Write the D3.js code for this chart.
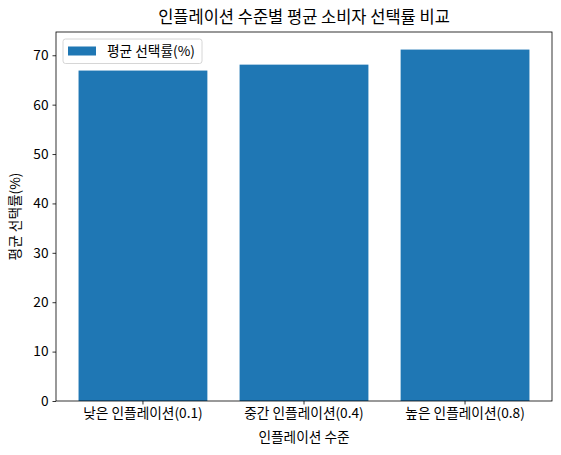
<!DOCTYPE html>
<html>
<head>
<meta charset="utf-8">
<script src="https://cdn.jsdelivr.net/npm/d3@7"></script>
<style>
  body { margin: 0; background: #fff; }
  svg text { font-family: "Noto Sans CJK KR", "Noto Sans", sans-serif; fill: #000; }
</style>
</head>
<body>
<svg id="chart" width="561" height="455"></svg>
<script>
// data
const categories = ['낮은 인플레이션(0.1)', '중간 인플레이션(0.4)', '높은 인플레이션(0.8)'];
const selectionRates = [66.9, 68.1, 71.15];
const yTicks = [0, 10, 20, 30, 40, 50, 60, 70];
const titleText = '인플레이션 수준별 평균 소비자 선택률 비교';
const xLabelText = '인플레이션 수준';
const yLabelText = '평균 선택률(%)';
const legendText = '평균 선택률(%)';

const margin = { top: 32, right: 9, bottom: 54, left: 56 };
const width = 561, height = 455;
const barColor = '#1f77b4';

const svg = d3.select('#chart');

const x = d3.scaleBand()
    .domain(categories)
    .range([margin.left, width - margin.right])
    .paddingInner(0.2)
    .paddingOuter(0.14);

// matplotlib auto limit: max * 1.05
const y = d3.scaleLinear()
    .domain([0, d3.max(selectionRates) * 1.05])
    .range([height - margin.bottom, margin.top]);

// bars
svg.append('g')
  .selectAll('rect')
  .data(selectionRates)
  .join('rect')
    .attr('x', (d, i) => x(categories[i]))
    .attr('width', x.bandwidth())
    .attr('y', d => y(d))
    .attr('height', d => y(0) - y(d))
    .attr('fill', barColor);

// axes
const xAxis = svg.append('g')
    .attr('transform', `translate(0,${height - margin.bottom})`)
    .call(d3.axisBottom(x).tickSize(3.5).tickPadding(4).tickSizeOuter(0));

const yAxis = svg.append('g')
    .attr('transform', `translate(${margin.left},0)`)
    .call(d3.axisLeft(y).tickValues(yTicks).tickSize(3.5).tickPadding(4).tickSizeOuter(0));

[xAxis, yAxis].forEach(a => {
    a.select('.domain').remove();
    a.selectAll('.tick line').attr('stroke', '#000').attr('stroke-width', 0.8);
    a.selectAll('.tick text').style('font-size', '13.7px').attr('fill', '#000');
});

// frame
svg.append('rect')
    .attr('x', margin.left)
    .attr('y', margin.top)
    .attr('width', width - margin.left - margin.right)
    .attr('height', height - margin.top - margin.bottom)
    .attr('fill', 'none')
    .attr('stroke', '#000')
    .attr('stroke-width', 0.8);

// title and labels
svg.append('text')
    .attr('x', (margin.left + width - margin.right) / 2)
    .attr('y', 23)
    .attr('text-anchor', 'middle')
    .style('font-size', '16.5px')
    .text(titleText);

svg.append('text')
    .attr('x', (margin.left + width - margin.right) / 2)
    .attr('y', 442)
    .attr('text-anchor', 'middle')
    .style('font-size', '13.7px')
    .text(xLabelText);

svg.append('text')
    .attr('transform', `translate(20,${(margin.top + height - margin.bottom) / 2}) rotate(-90)`)
    .attr('text-anchor', 'middle')
    .style('font-size', '13.7px')
    .text(yLabelText);

// legend
const legend = svg.append('g').attr('transform', 'translate(63,39)');
legend.append('rect')
    .attr('width', 139)
    .attr('height', 24.5)
    .attr('rx', 2.5)
    .attr('fill', '#fff')
    .attr('fill-opacity', 0.8)
    .attr('stroke', '#ccc')
    .attr('stroke-width', 0.8);
legend.append('rect')
    .attr('x', 5)
    .attr('y', 7.5)
    .attr('width', 28)
    .attr('height', 9)
    .attr('fill', barColor);
legend.append('text')
    .attr('x', 44)
    .attr('y', 17)
    .style('font-size', '13.7px')
    .text(legendText);
</script>
</body>
</html>
